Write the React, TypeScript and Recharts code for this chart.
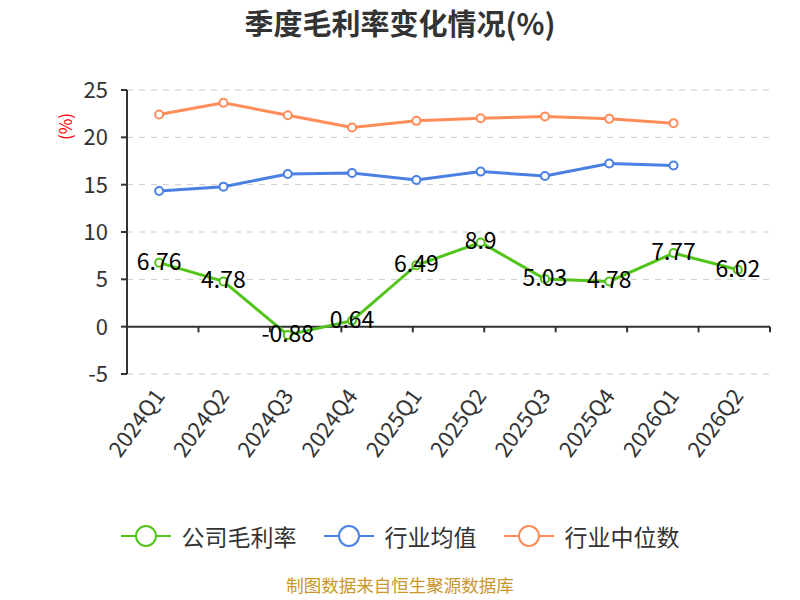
import React from "react";
import { LineChart, Line, XAxis, YAxis, CartesianGrid, ReferenceLine, LabelList } from "recharts";

const quarters = ["2024Q1", "2024Q2", "2024Q3", "2024Q4", "2025Q1", "2025Q2", "2025Q3", "2025Q4", "2026Q1", "2026Q2"];
const companyMargin = [6.76, 4.78, -0.88, 0.64, 6.49, 8.9, 5.03, 4.78, 7.77, 6.02];
const industryAvg = [14.33, 14.79, 16.13, 16.24, 15.5, 16.38, 15.92, 17.23, 17.02, null];
const industryMedian = [22.41, 23.65, 22.34, 21.03, 21.74, 22.02, 22.2, 21.95, 21.49, null];
const yTicks = [-5, 0, 5, 10, 15, 20, 25];
const boundaryTicks = [1, 2, 3, 4, 5, 6, 7, 8, 9, 10];

const seriesNames = ["公司毛利率", "行业均值", "行业中位数"];
const colors = ["#52c41a", "#4a80e3", "#ff8c59"];

const data = quarters.map((q, i) => ({
  q,
  company: companyMargin[i],
  avg: industryAvg[i],
  median: industryMedian[i],
}));

const FONT = '"Noto Sans CJK SC", "Noto Sans", sans-serif';

const XTick = (props: any) => {
  const { x, y, payload } = props;
  return (
    <g transform={`translate(${x + 1},${y + 10})`}>
      <text transform="rotate(-54)" textAnchor="end" dy={7} fontSize={22} fill="#333" fontFamily={FONT}>
        {payload.value}
      </text>
    </g>
  );
};

const YTick = (props: any) => {
  const { x, y, payload } = props;
  return (
    <text x={x - 11} y={y} dy={8} textAnchor="end" fontSize={22} fill="#333" fontFamily={FONT}>
      {payload.value}
    </text>
  );
};

const ValueLabel = (props: any) => {
  const { x, y, value } = props;
  return (
    <text x={x} y={y} dy={7} textAnchor="middle" fontSize={23} fill="#000" fontFamily={FONT}>
      {value}
    </text>
  );
};

const Dot = (color: string) => (props: any) => {
  const { cx, cy, index, value } = props;
  if (value == null || cy == null) return <g key={index} />;
  return <circle key={index} cx={cx} cy={cy} r={4} fill="#fff" stroke={color} strokeWidth={2} />;
};

export default function App() {
  return (
    <div style={{ position: "absolute", left: 0, top: 0, width: 800, height: 600, background: "#fff", fontFamily: FONT, overflow: "hidden" }}>
      <div style={{ position: "absolute", left: 0, top: 1, width: 800, textAlign: "center", fontSize: 29, fontWeight: "bold", color: "#333" }}>
        季度毛利率变化情况(%)
      </div>
      <div style={{ position: "absolute", left: 50, top: 114, transform: "rotate(-90deg)", transformOrigin: "center", color: "#f00", fontSize: 17, width: 28, textAlign: "center" }}>
        (%)
      </div>
      <LineChart width={800} height={600} data={data} margin={{ top: 90, right: 30, left: 0, bottom: 126 }}>
        <CartesianGrid vertical={false} stroke="#ccc" strokeDasharray="6 6" />
        <XAxis dataKey="q" scale="band" height={100} axisLine={false} tickLine={false} tick={<XTick />} interval={0} />
        <XAxis xAxisId="b" type="number" domain={[0, 10]} hide />
        <YAxis
          width={127}
          domain={[-5, 25]}
          ticks={yTicks}
          interval={0}
          axisLine={{ stroke: "#333", strokeWidth: 2 }}
          tickLine={{ stroke: "#333", strokeWidth: 2 }}
          tickSize={6}
          tick={<YTick />}
        />
        <ReferenceLine y={0} stroke="#333" strokeWidth={2} />
        {boundaryTicks.map((b) => (
          <ReferenceLine
            key={b}
            xAxisId="b"
            segment={[{ x: b, y: 0 }, { x: b, y: -0.6 }]}
            stroke="#333"
            strokeWidth={2}
          />
        ))}
        <Line dataKey="median" stroke={colors[2]} strokeWidth={3} dot={Dot(colors[2])} isAnimationActive={false} />
        <Line dataKey="avg" stroke={colors[1]} strokeWidth={3} dot={Dot(colors[1])} isAnimationActive={false} />
        <Line dataKey="company" stroke={colors[0]} strokeWidth={3} dot={Dot(colors[0])} isAnimationActive={false}>
          <LabelList dataKey="company" content={<ValueLabel />} />
        </Line>
      </LineChart>
      <div style={{ position: "absolute", left: 0, top: 519, width: 800, display: "flex", justifyContent: "center", alignItems: "center", gap: 27 }}>
        {seriesNames.map((n, i) => (
          <div key={n} style={{ display: "flex", alignItems: "center", gap: 11 }}>
            <svg width={50} height={24}>
              <line x1={0} y1={12} x2={50} y2={12} stroke={colors[i]} strokeWidth={2} />
              <circle cx={25} cy={12} r={10} fill="#fff" stroke={colors[i]} strokeWidth={2} />
            </svg>
            <span style={{ fontSize: 23, color: "#333" }}>{n}</span>
          </div>
        ))}
      </div>
      <div style={{ position: "absolute", left: 0, top: 575, width: 800, height: 20, lineHeight: "20px", textAlign: "center", fontSize: 17.5, color: "#c9962b" }}>
        制图数据来自恒生聚源数据库
      </div>
    </div>
  );
}
